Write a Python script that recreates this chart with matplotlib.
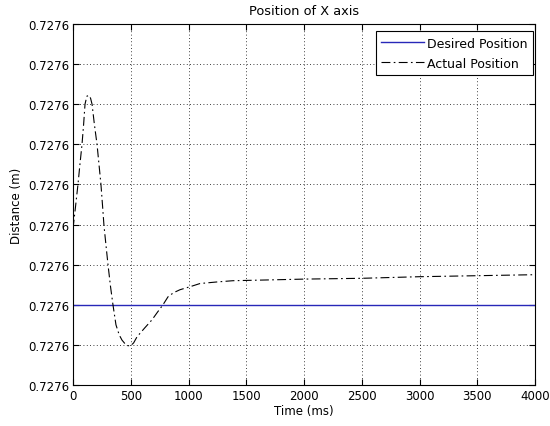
import matplotlib
matplotlib.use("Agg")
import matplotlib.pyplot as plt
from matplotlib.ticker import FormatStrFormatter

# Data
time_ms = [0, 20, 43, 60, 78, 92, 104, 120, 139, 152, 165, 185, 208, 225, 242, 255, 268,
           285, 303, 325, 346, 372, 400, 424, 450, 475, 500, 525, 554, 620, 684, 730, 779,
           823, 870, 926, 1013, 1100, 1250, 1385, 1700, 2000, 2500, 3000, 3500, 4000]
actual_pos = [0.72760019, 0.72760024, 0.72760030, 0.72760035, 0.72760040, 0.72760045,
              0.72760050, 0.72760052, 0.727600522, 0.727600515, 0.72760050, 0.72760045,
              0.72760040, 0.72760035, 0.72760030, 0.72760025, 0.727600198,
              0.72760015, 0.72760010, 0.727600045, 0.72760000, 0.72759995, 0.727599925,
              0.727599912, 0.727599903, 0.727599898, 0.727599898, 0.727599905, 0.72759992,
              0.727599942, 0.7275999625, 0.727599981, 0.72760000,
              0.72760002, 0.72760003, 0.7276000375, 0.727600045, 0.727600053, 0.727600057,
              0.72760006, 0.727600062, 0.727600064, 0.727600066, 0.72760007, 0.7276000725,
              0.727600075]
desired_time = [0, 4000]
desired_pos = [0.7276, 0.7276]

y_ticks = [0.7275998 + i * 1e-7 for i in range(10)]
x_ticks = [0, 500, 1000, 1500, 2000, 2500, 3000, 3500, 4000]

plt.rcParams['font.family'] = ['DejaVu Sans']
plt.rcParams['font.size'] = 8.5

fig = plt.figure(figsize=(5.5, 4.27), dpi=100)
ax = fig.add_axes([73 / 550, 41 / 427, 462 / 550, 361 / 427])

ax.plot(desired_time, desired_pos, color='#2828b8', lw=1.0, label='Desired Position')
ax.plot(time_ms, actual_pos, color='black', lw=0.8, linestyle=(0, (8, 3, 1.5, 3)),
        label='Actual Position')

ax.set_xlim(0, 4000)
ax.set_ylim(y_ticks[0], y_ticks[-1])
ax.set_xticks(x_ticks)
ax.set_yticks(y_ticks)
ax.yaxis.set_major_formatter(FormatStrFormatter('%.4f'))
ax.grid(True, color='black', linestyle=(0, (1, 3)), linewidth=0.6)
ax.tick_params(direction='in', top=True, right=True, length=4, width=0.8)
ax.tick_params(axis='x', pad=3)
ax.tick_params(axis='y', pad=2.5)
for s in ax.spines.values():
    s.set_linewidth(0.8)

ax.set_title('Position of X axis', fontsize=9.3, pad=7)
ax.set_xlabel('Time (ms)', labelpad=1)
ax.set_ylabel('Distance (m)', labelpad=4)

leg = ax.legend(loc='upper right', bbox_to_anchor=(460 / 462, 1 - 7 / 361),
                borderaxespad=0, fancybox=False, framealpha=1, edgecolor='black',
                fontsize=9, handlelength=3.4, handletextpad=0.25,
                labelspacing=0.55, borderpad=0.45)
leg.get_frame().set_linewidth(0.8)

fig.savefig('out.png', dpi=100)
